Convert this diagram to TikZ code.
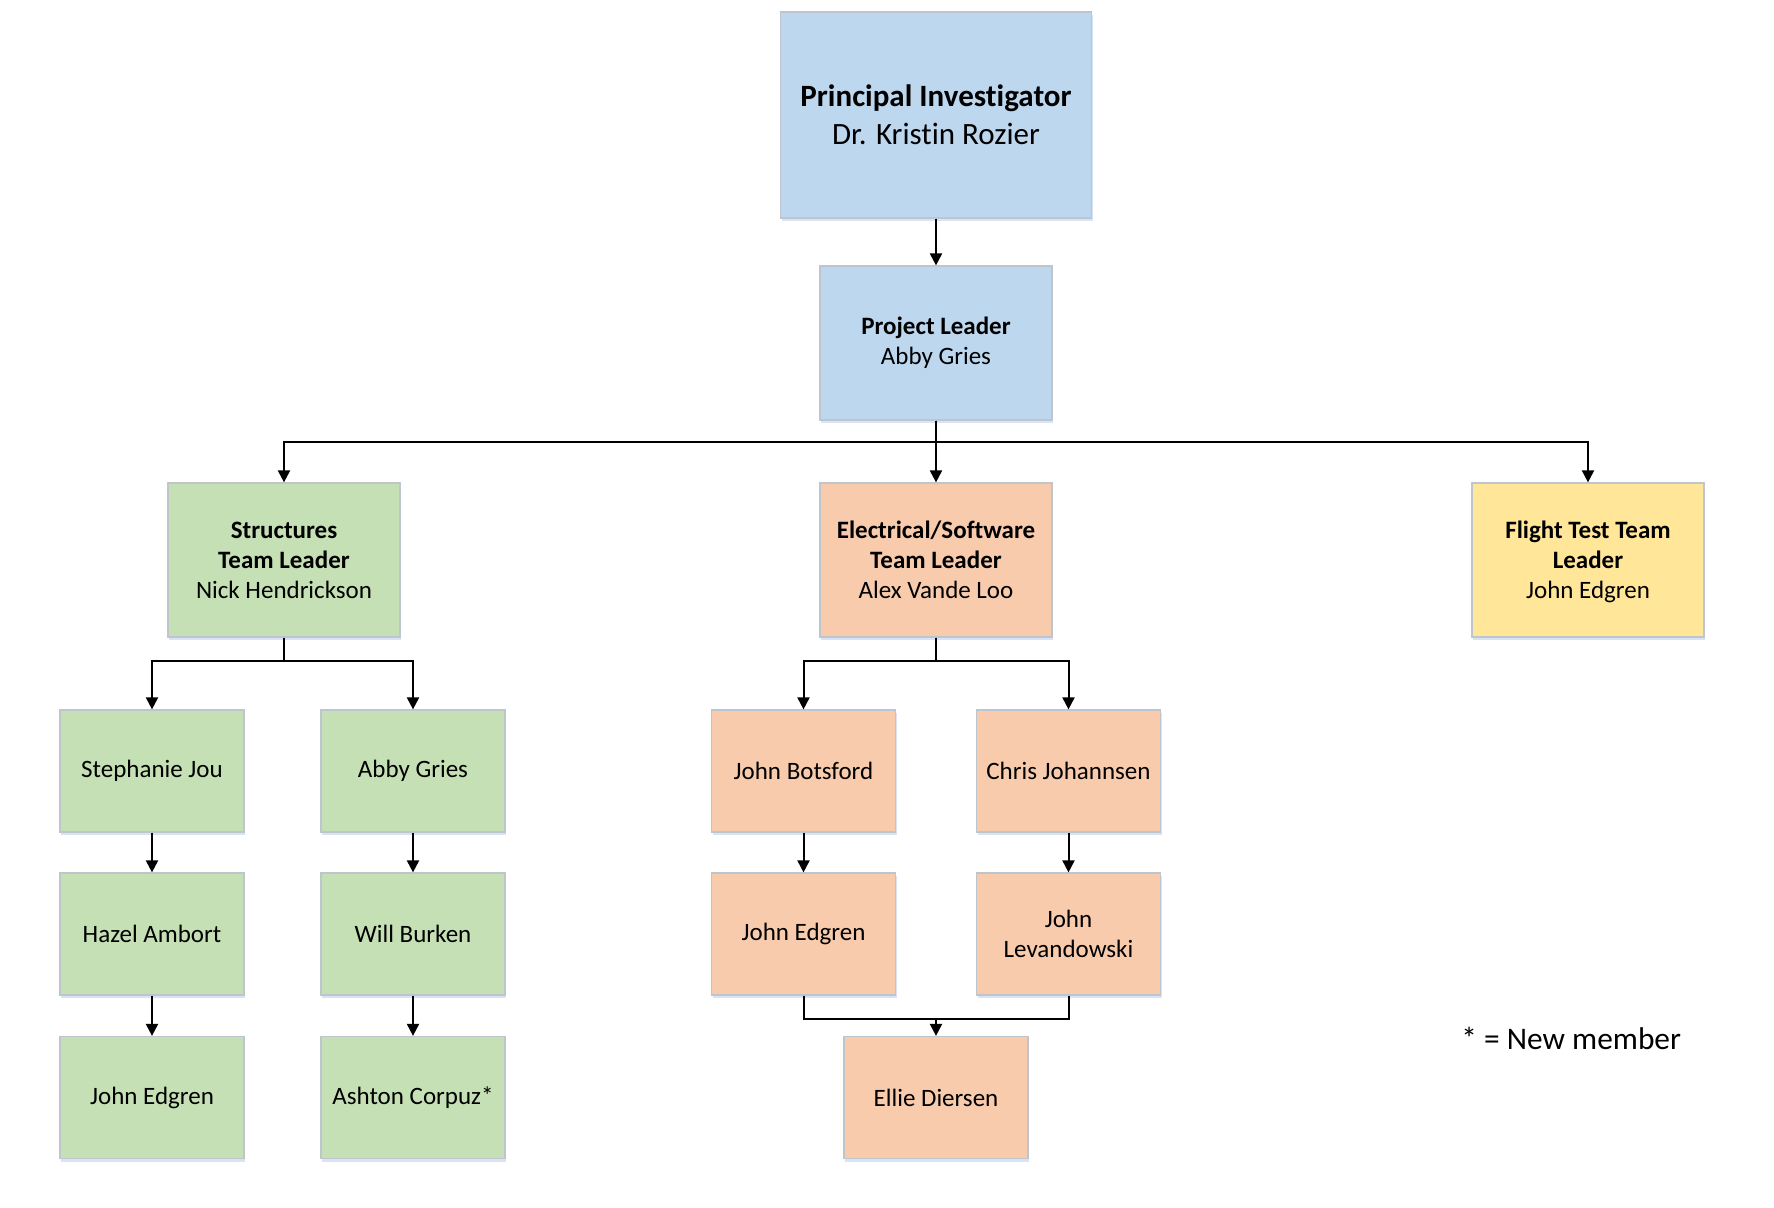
\documentclass[tikz,border=0pt]{standalone}
\usepackage{fontspec}
\setmainfont[Ligatures={NoCommon}]{Carlito}
\usetikzlibrary{arrows.meta,shadows}
\definecolor{cblue}{HTML}{BDD7EE}
\definecolor{cgreen}{HTML}{C5E0B4}
\definecolor{corange}{HTML}{F8CBAD}
\definecolor{cyellow}{HTML}{FFE699}
\definecolor{cborder}{HTML}{BFC5CC}
\definecolor{cshadow}{HTML}{A9C4E8}
\tikzset{
  box/.style={draw=cborder, line width=0.6pt, align=center, inner sep=0pt,
    font=\fontsize{12.5}{15}\selectfont,
    drop shadow={shadow xshift=0.6pt, shadow yshift=-1.6pt, fill=cshadow, opacity=0.45}},
  bigbox/.style={box, minimum width=116pt, minimum height=77pt},
  smallbox/.style={box, minimum width=92pt, minimum height=61pt},
  conn/.style={line width=1pt, draw=black},
  arr/.style={conn, -{Triangle[length=6pt,width=6pt]}}
}
\begin{document}
\begin{tikzpicture}[x=0.5pt,y=-0.5pt]
\useasboundingbox (0,0) rectangle (1774,1208);
% top
\node[box, fill=cblue, minimum width=155.5pt, minimum height=103pt,
  font=\fontsize{15.5}{19}\selectfont] (pi) at (936,115)
  {\textbf{Principal Investigator}\\Dr. Kristin Rozier};
\node[bigbox, fill=cblue] (pl) at (936,343) {\textbf{Project Leader}\\Abby Gries};
% team leaders
\node[bigbox, fill=cgreen] (st) at (284,560) {\textbf{Structures}\\\textbf{Team Leader}\\Nick Hendrickson};
\node[bigbox, fill=corange] (el) at (936,560) {\textbf{Electrical/Software}\\\textbf{Team Leader}\\Alex Vande Loo};
\node[bigbox, fill=cyellow] (ft) at (1588,560) {\textbf{Flight Test Team}\\\textbf{Leader}\\\smash{John Edgren}};
% structures members
\node[smallbox, fill=cgreen] (s1) at (152,771) {Stephanie Jou};
\node[smallbox, fill=cgreen] (s2) at (413,771) {Abby Gries};
\node[smallbox, fill=cgreen] (s3) at (152,934) {Hazel Ambort};
\node[smallbox, fill=cgreen] (s4) at (413,934) {Will Burken};
\node[smallbox, fill=cgreen] (s5) at (152,1097.5) {John Edgren};
\node[smallbox, fill=cgreen] (s6) at (413,1097.5) {Ashton Corpuz*};
% electrical members
\node[smallbox, fill=corange] (e1) at (803.5,771) {John Botsford};
\node[smallbox, fill=corange] (e2) at (1068.5,771) {Chris Johannsen};
\node[smallbox, fill=corange] (e3) at (803.5,934) {John Edgren};
\node[smallbox, fill=corange] (e4) at (1068.5,934) {John\\Levandowski};
\node[smallbox, fill=corange] (e5) at (936,1097.5) {Ellie Diersen};
% legend
\node[anchor=base west, inner sep=0pt, font=\fontsize{15.7}{19}\selectfont] (leg) at (1461,1049) {* = New member};
% junction points
\coordinate (b1) at (936,442);
\coordinate (b2) at (284,661);
\coordinate (b3) at (936,661);
\coordinate (m) at (936,1019);
% connectors
\draw[arr] (pi.south) -- (pl.north);
\draw[arr] (pl.south) -- (b1) -| (st.north);
\draw[arr] (pl.south) -- (b1) -| (ft.north);
\draw[arr] (pl.south) -- (el.north);
\draw[arr] (st.south) -- (b2) -| (s1.north);
\draw[arr] (st.south) -- (b2) -| (s2.north);
\draw[arr] (el.south) -- (b3) -| (e1.north);
\draw[arr] (el.south) -- (b3) -| (e2.north);
\draw[arr] (s1.south) -- (s3.north);
\draw[arr] (s3.south) -- (s5.north);
\draw[arr] (s2.south) -- (s4.north);
\draw[arr] (s4.south) -- (s6.north);
\draw[arr] (e1.south) -- (e3.north);
\draw[arr] (e2.south) -- (e4.north);
\draw[conn] (e3.south) |- (m);
\draw[conn] (e4.south) |- (m);
\draw[arr] (m) -- (e5.north);
\end{tikzpicture}
\end{document}
